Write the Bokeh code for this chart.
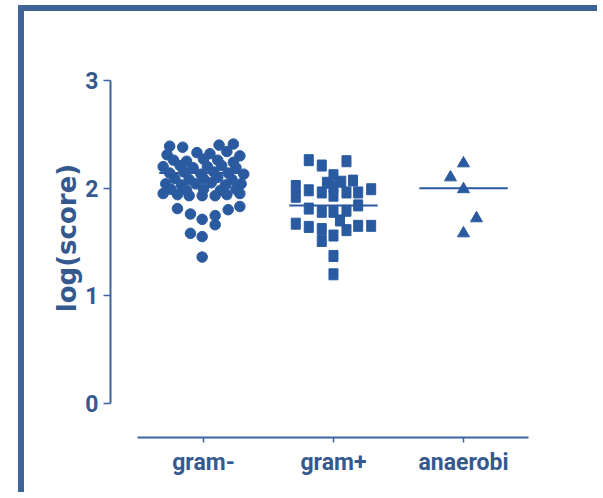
import numpy as np
from bokeh.plotting import figure
from bokeh.models import Range1d, FixedTicker
from bokeh.embed import file_html
from bokeh.resources import INLINE

categories = ["gram-", "gram+", "anaerobi"]
axis_title = "log(score)"
y_ticks = [0, 1, 2, 3]

# gram- (circles): horizontal scatter offset (category units) and log(score)
gram_neg_offset = [-0.26, -0.16, 0.12, 0.23,
                   -0.28, -0.05, 0.05, 0.18, 0.28,
                   -0.23, -0.13, 0.00, 0.11, 0.23,
                   -0.31, -0.18, -0.08, 0.03, 0.14, 0.25,
                   -0.26, -0.15, -0.02, 0.08, 0.19, 0.31,
                   -0.22, -0.11, 0.00, 0.11, 0.22,
                   -0.29, -0.17, -0.06, 0.06, 0.17, 0.29,
                   -0.25, -0.13, 0.00, 0.13, 0.25,
                   -0.31, -0.20, -0.11, -0.01, 0.09, 0.18, 0.28,
                   -0.20, -0.10, -0.01, 0.09, 0.09, 0.19, 0.28,
                   -0.10, -0.01, -0.01]
gram_neg_value = [2.39, 2.38, 2.40, 2.41,
                  2.31, 2.33, 2.32, 2.34, 2.30,
                  2.26, 2.25, 2.27, 2.26, 2.24,
                  2.20, 2.21, 2.19, 2.20, 2.21, 2.19,
                  2.14, 2.15, 2.13, 2.15, 2.14, 2.13,
                  2.09, 2.08, 2.09, 2.10, 2.08,
                  2.04, 2.03, 2.04, 2.05, 2.03, 2.04,
                  1.99, 1.98, 1.99, 1.98, 1.99,
                  1.95, 1.94, 1.93, 1.93, 1.93, 1.94, 1.95,
                  1.81, 1.76, 1.71, 1.745, 1.66, 1.80, 1.83,
                  1.58, 1.55, 1.36]

# gram+ (squares)
gram_pos_offset = [-0.19, -0.09, 0.10, 0.00, -0.05, 0.06, 0.15,
                   -0.29, -0.29, -0.19, -0.09, 0.00, 0.00, 0.10, 0.19, 0.29,
                   -0.19, -0.09, 0.00, 0.10, 0.19,
                   -0.29, -0.19, -0.09, -0.09, 0.00, 0.05, 0.10, 0.19, 0.29,
                   0.00, 0.00]
gram_pos_value = [2.26, 2.21, 2.25, 2.12, 2.05, 2.06, 2.07,
                  2.02, 1.92, 1.98, 1.96, 2.01, 1.93, 1.96, 1.96, 1.99,
                  1.81, 1.78, 1.78, 1.79, 1.84,
                  1.67, 1.64, 1.62, 1.51, 1.56, 1.70, 1.61, 1.65, 1.65,
                  1.37, 1.20]

# anaerobi (triangles)
anaer_offset = [0.00, -0.10, 0.00, 0.10, 0.00]
anaer_value = [2.23, 2.10, 1.99, 1.72, 1.58]

# median lines
medians = [2.14, 1.84, 2.00]

MARK = "#2a5aa0"
AXIS = "#3b63a0"
TEXT = "#35598f"
FRAME = "#3d6397"

p = figure(width=579, height=487, output_backend="svg", toolbar_location=None,
           x_range=Range1d(0.285, 3.5), y_range=Range1d(-0.316, 3.39),
           min_border_left=86, min_border_right=75,
           min_border_top=27, min_border_bottom=61,
           styles={"margin-left": "18px", "margin-top": "5px",
                   "border-left": "6px solid " + FRAME,
                   "border-top": "6px solid " + FRAME})
p.background_fill_color = "white"
p.border_fill_color = "white"
p.outline_line_color = None
p.grid.visible = False

xs = np.arange(1, len(categories) + 1)

p.scatter(x=1 + np.array(gram_neg_offset), y=gram_neg_value, marker="circle",
          size=10.5, fill_color=MARK, line_color=MARK)
p.rect(x=2 + np.array(gram_pos_offset), y=gram_pos_value, width=9, height=11,
       width_units="screen", height_units="screen", fill_color=MARK, line_color=MARK)
p.scatter(x=3 + np.array(anaer_offset), y=anaer_value, marker="triangle",
          size=12, fill_color=MARK, line_color=MARK)
p.segment(x0=xs - 0.34, x1=xs + 0.34, y0=medians, y1=medians,
          line_color=MARK, line_width=2)

xa = p.xaxis[0]
xa.ticker = FixedTicker(ticks=list(xs))
xa.major_label_overrides = {int(i): c for i, c in zip(xs, categories)}
xa.bounds = (0.49, 3.5)
ya = p.yaxis[0]
ya.ticker = FixedTicker(ticks=y_ticks)
ya.bounds = (0, 3)
ya.axis_label = axis_title
ya.axis_label_text_color = TEXT
ya.axis_label_text_font = "DejaVu Sans"
ya.axis_label_text_font_style = "bold"
ya.axis_label_text_font_size = "26px"
ya.axis_label_standoff = 0

for ax in (xa, ya):
    ax.axis_line_color = AXIS
    ax.axis_line_width = 2
    ax.major_tick_line_color = AXIS
    ax.major_tick_line_width = 1.5
    ax.major_tick_in = 0
    ax.minor_tick_in = 0
    ax.minor_tick_out = 0
    ax.major_label_text_color = TEXT
    ax.major_label_text_font = "Roboto"
    ax.major_label_text_font_style = "bold"
    ax.major_label_text_font_size = "23px"
xa.major_tick_out = 5
xa.major_label_standoff = 6
ya.major_tick_out = 7
ya.major_label_standoff = 5

open("out.html", "w").write(file_html(p, INLINE))
